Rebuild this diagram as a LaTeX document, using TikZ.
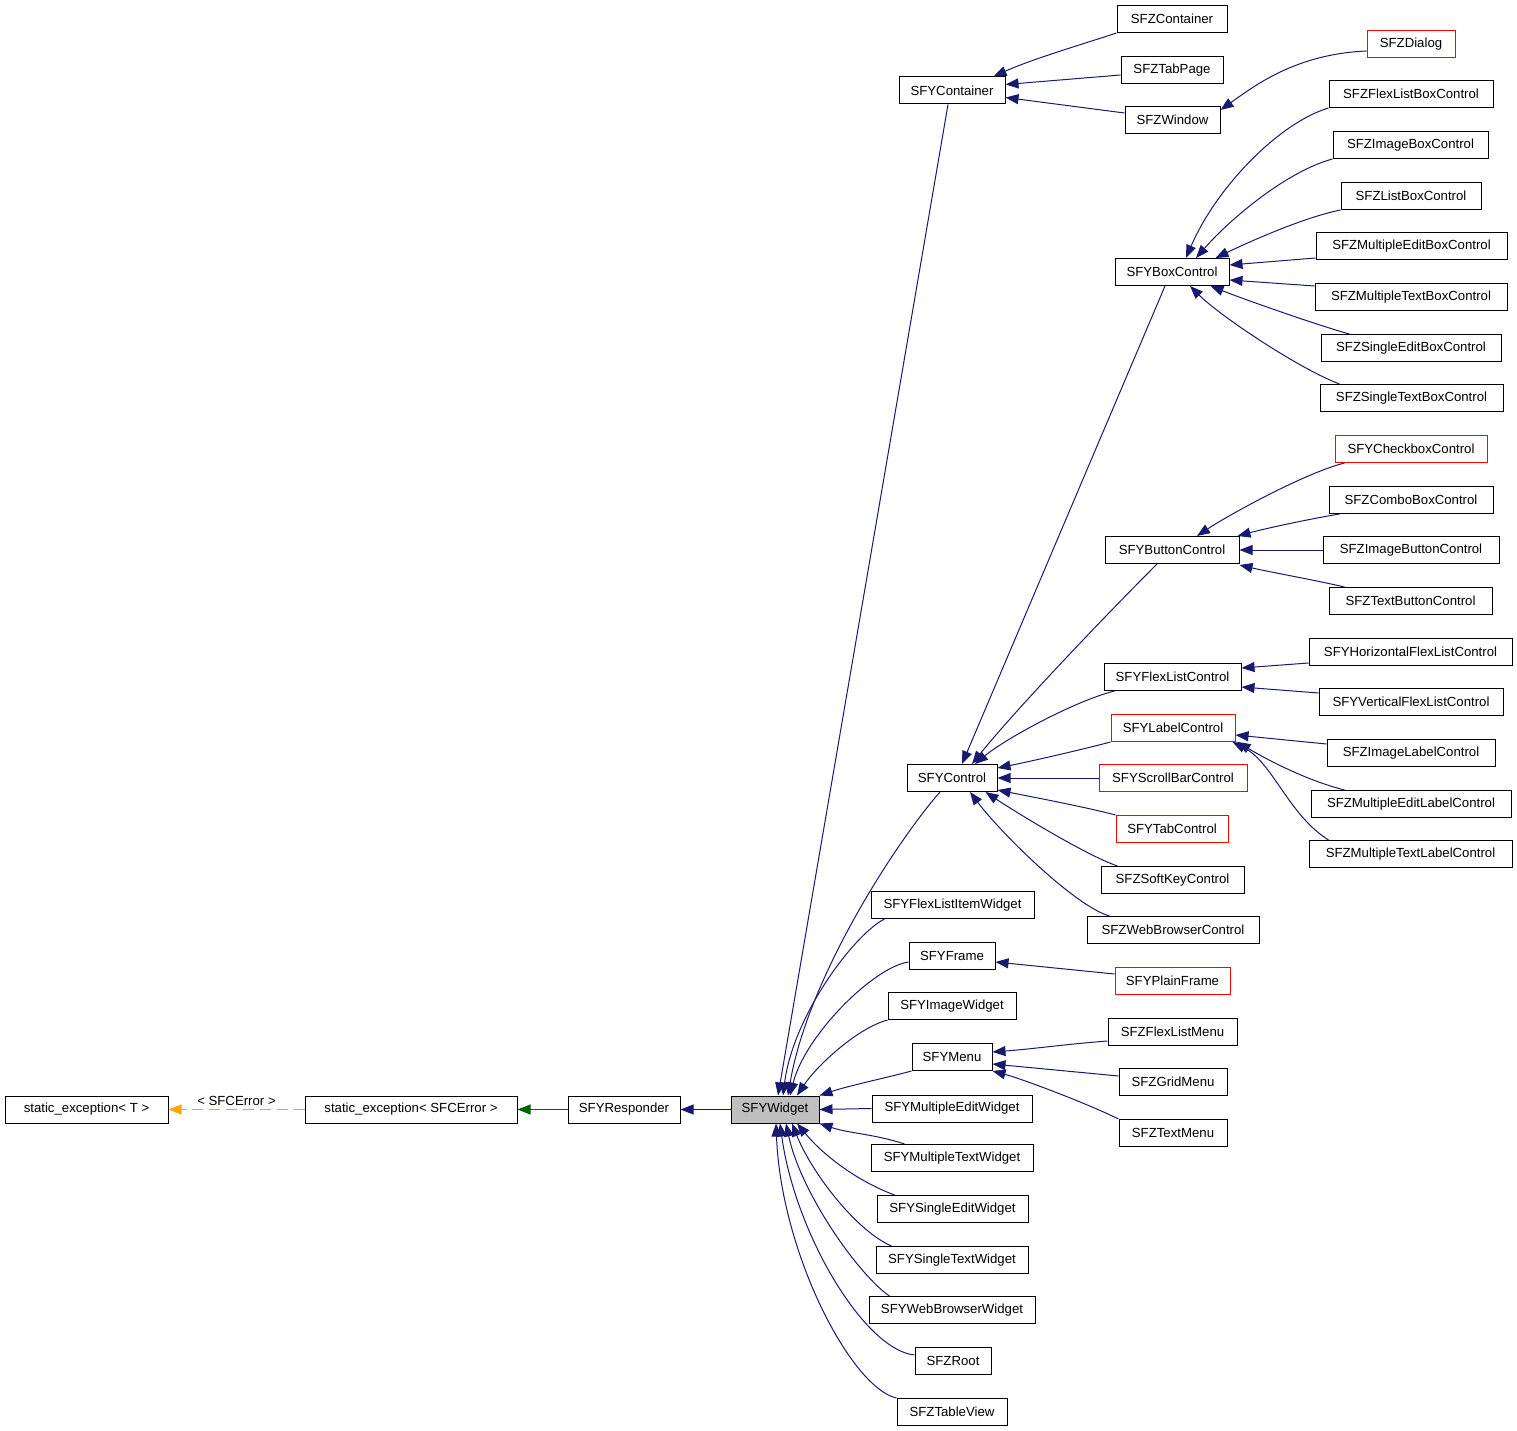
\documentclass[tikz,border=0pt]{standalone}
\usepackage{fontspec}
\setmainfont{Liberation Sans}
\usetikzlibrary{arrows.meta}
\definecolor{edgeblue}{RGB}{25,25,112}
\definecolor{edgegreen}{RGB}{0,100,0}
\definecolor{edgeorange}{RGB}{255,165,0}
\definecolor{widgetgray}{RGB}{191,191,191}

\begin{document}
\begin{tikzpicture}[x=1pt, y=-1pt,
    cls/.style={draw, line width=1pt, minimum height=27pt, inner sep=0pt, font=\fontsize{13.2}{15}\selectfont},
    redcls/.style={cls, draw=red},
    inh/.style={draw=edgeblue, line width=1pt, -{Triangle[length=13pt,width=10pt]}}]
    \useasboundingbox (0,0) rectangle (1517,1431);

    % base chain
    \node[cls, minimum width=163pt] (excT) at (86.5,1109.5) {static\_exception< T >\hspace{12pt}};
    \node[cls, minimum width=212pt] (excE) at (411,1109.5) {static\_exception< SFCError >\hspace{14pt}};
    \node[cls, minimum width=112pt] (resp) at (624,1109.5) {SFYResponder};
    \node[cls, fill=widgetgray, minimum width=88pt] (widget) at (775,1109.5) {SFYWidget};

    % direct children of SFYWidget
    \node[cls, minimum width=106pt] (yCont) at (952,90.5) {SFYContainer};
    \node[cls, minimum width=90pt] (yCtrl) at (952,778) {SFYControl};
    \node[cls, minimum width=163pt] (flItem) at (952.5,905) {SFYFlexListItemWidget};
    \node[cls, minimum width=86pt] (yFrame) at (952,956) {SFYFrame};
    \node[cls, minimum width=128pt] (imgW) at (952,1006) {SFYImageWidget};
    \node[cls, minimum width=80pt] (yMenu) at (952,1057) {SFYMenu};
    \node[cls, minimum width=160pt] (medW) at (952,1108.5) {SFYMultipleEditWidget};
    \node[cls, minimum width=162pt] (mtxW) at (952,1158) {SFYMultipleTextWidget};
    \node[cls, minimum width=151pt] (sedW) at (952.5,1209) {SFYSingleEditWidget};
    \node[cls, minimum width=152pt] (stxW) at (952,1260) {SFYSingleTextWidget};
    \node[cls, minimum width=166pt] (wbW) at (952,1310) {SFYWebBrowserWidget};
    \node[cls, minimum width=76pt] (zRoot) at (953,1361) {SFZRoot};
    \node[cls, minimum width=110pt] (zTable) at (952,1412) {SFZTableView};

    % second column
    \node[cls, minimum width=110pt] (zCont) at (1172,19) {SFZContainer};
    \node[cls, minimum width=102pt] (zTab) at (1172,70) {SFZTabPage};
    \node[cls, minimum width=95pt] (zWin) at (1172.5,120) {SFZWindow};
    \node[cls, minimum width=114pt] (boxc) at (1172,272) {SFYBoxControl};
    \node[cls, minimum width=134pt] (btnc) at (1172,550) {SFYButtonControl};
    \node[cls, minimum width=137pt] (flc) at (1172.5,677) {SFYFlexListControl};
    \node[redcls, minimum width=124pt] (lblc) at (1173,728) {SFYLabelControl};
    \node[redcls, minimum width=148pt] (sbc) at (1173,778) {SFYScrollBarControl};
    \node[redcls, minimum width=112pt] (tabc) at (1172,829) {SFYTabControl};
    \node[cls, minimum width=143pt] (skc) at (1172.5,880) {SFZSoftKeyControl};
    \node[cls, minimum width=172pt] (wbc) at (1173,930) {SFZWebBrowserControl};
    \node[redcls, minimum width=115pt] (pFrame) at (1172.5,981) {SFYPlainFrame};
    \node[cls, minimum width=129pt] (flMenu) at (1172.5,1032) {SFZFlexListMenu};
    \node[cls, minimum width=108pt] (gridM) at (1173,1082) {SFZGridMenu};
    \node[cls, minimum width=108pt] (txtM) at (1173,1133) {SFZTextMenu};

    % third column
    \node[redcls, minimum width=88pt] (zDlg) at (1411,44) {SFZDialog};
    \node[cls, minimum width=164pt] (flbc) at (1411,94) {SFZFlexListBoxControl};
    \node[cls, minimum width=155pt] (ibc) at (1410.5,145) {SFZImageBoxControl};
    \node[cls, minimum width=140pt] (lbc) at (1411,196) {SFZListBoxControl};
    \node[cls, minimum width=191pt] (mebc) at (1411.5,246) {SFZMultipleEditBoxControl};
    \node[cls, minimum width=192pt] (mtbc) at (1411,297) {SFZMultipleTextBoxControl};
    \node[cls, minimum width=180pt] (sebc) at (1411,348) {SFZSingleEditBoxControl};
    \node[cls, minimum width=183pt] (stbc) at (1411.5,398) {SFZSingleTextBoxControl};
    \node[redcls, minimum width=152pt] (chk) at (1411,449) {SFYCheckboxControl};
    \node[cls, minimum width=164pt] (cbc) at (1411,500) {SFZComboBoxControl};
    \node[cls, minimum width=176pt] (ibtn) at (1411,550) {SFZImageButtonControl};
    \node[cls, minimum width=163pt] (tbtn) at (1410.5,601) {SFZTextButtonControl};
    \node[cls, minimum width=203pt] (hfl) at (1410.5,652) {SFYHorizontalFlexListControl};
    \node[cls, minimum width=184pt] (vfl) at (1411,702) {SFYVerticalFlexListControl};
    \node[cls, minimum width=168pt] (ilc) at (1411,753) {SFZImageLabelControl};
    \node[cls, minimum width=200pt] (melc) at (1411,804) {SFZMultipleEditLabelControl};
    \node[cls, minimum width=203pt] (mtlc) at (1410.5,854) {SFZMultipleTextLabelControl};

    % base chain edges
    \draw[inh] (widget) -- (resp);
    \draw[edgegreen, line width=1pt, -{Triangle[length=13pt,width=10pt]}] (resp) -- (excE);
    \draw[edgeorange, line width=1.2pt, dash pattern=on 11pt off 6pt, -{Triangle[length=13pt,width=10pt]}]
        (excE) -- node[above, inner sep=3pt, text=black, font=\fontsize{13.2}{15}\selectfont] {< SFCError >} (excT);

    % SFYContainer
    \draw[inh] (zCont.south west) .. controls +(-30,10) and +(40,-18) .. ([xshift=-12pt]yCont.north east);
    \draw[inh] ([yshift=-5pt]zTab.west) -- ([yshift=6pt]yCont.east);
    \draw[inh] ([yshift=7pt]zWin.west) -- ([yshift=-7pt]yCont.east);
    \draw[inh] ([yshift=-7pt]zDlg.west) .. controls +(-70,3) and +(35,-25) .. ([yshift=10pt]zWin.east);
    \draw[inh] ([xshift=-4pt]yCont.south) -- ([xshift=3pt]widget.north);

    % SFYBoxControl
    \draw[inh] (flbc.south west) .. controls +(-50,15) and +(30,-70) .. ([xshift=14pt]boxc.north);
    \draw[inh] (ibc.south west) .. controls +(-45,12) and +(35,-40) .. ([xshift=24pt]boxc.north);
    \draw[inh] (lbc.south west) .. controls +(-40,8) and +(25,-12) .. ([xshift=-14pt]boxc.north east);
    \draw[inh] ([yshift=-12pt]mebc.west) -- ([yshift=7pt]boxc.east);
    \draw[inh] ([yshift=11pt]mtbc.west) -- ([yshift=-8pt]boxc.east);
    \draw[inh] ([xshift=29pt]sebc.north west) .. controls +(-30,-8) and +(30,12) .. ([xshift=-19pt]boxc.south east);
    \draw[inh] ([xshift=20pt]stbc.north west) .. controls +(-40,-15) and +(30,30) .. ([xshift=18pt]boxc.south);
    \draw[inh] ([xshift=-7pt]boxc.south) -- ([xshift=10pt]yCtrl.north);

    % SFYButtonControl
    \draw[inh] ([xshift=10pt]chk.south west) .. controls +(-40,10) and +(30,-20) .. ([xshift=25pt]btnc.north);
    \draw[inh] ([xshift=11pt]cbc.south west) .. controls +(-30,5) and +(30,-8) .. ([xshift=-2pt]btnc.north east);
    \draw[inh] (ibtn.west) -- (btnc.east);
    \draw[inh] ([xshift=16pt]tbtn.north west) .. controls +(-30,-7) and +(30,7) .. ([yshift=-15pt]btnc.east);
    \draw[inh] ([xshift=-15pt]btnc.south) .. controls +(-60,60) and +(40,-50) .. ([xshift=20pt]yCtrl.north);

    % SFYFlexListControl
    \draw[inh] ([yshift=-11pt]hfl.west) -- ([yshift=9pt]flc.east);
    \draw[inh] ([yshift=9pt]vfl.west) -- ([yshift=-10pt]flc.east);
    \draw[inh] ([xshift=11pt]flc.south west) .. controls +(-40,10) and +(30,-25) .. ([xshift=23pt]yCtrl.north);

    % SFYLabelControl
    \draw[inh] ([yshift=9pt]ilc.west) -- ([yshift=-7pt]lblc.east);
    \draw[inh] ([xshift=34pt]melc.north west) .. controls +(-40,-10) and +(25,15) .. ([xshift=2pt]lblc.south east);
    \draw[inh] ([xshift=20pt]mtlc.north west) .. controls +(-40,-25) and +(40,20) .. ([xshift=-3pt]lblc.south east);

    % SFYControl
    \draw[inh] (lblc.south west) .. controls +(-30,8) and +(30,-6) .. ([yshift=10pt]yCtrl.east);
    \draw[inh] (sbc.west) -- (yCtrl.east);
    \draw[inh] (tabc.north west) .. controls +(-30,-8) and +(30,6) .. ([yshift=-12pt]yCtrl.east);
    \draw[inh] ([xshift=17pt]skc.north west) .. controls +(-30,-10) and +(30,20) .. ([xshift=-12pt]yCtrl.south east);
    \draw[inh] ([xshift=23pt]wbc.north west) .. controls +(-35,-10) and +(30,40) .. ([xshift=18pt]yCtrl.south);
    \draw[inh] ([xshift=-12pt]yCtrl.south) .. controls +(-40,45) and +(20,-120) .. ([xshift=13pt]widget.north);

    % SFYFrame, SFYMenu
    \draw[inh] ([yshift=7pt]pFrame.west) -- ([yshift=-6pt]yFrame.east);
    \draw[inh] ([yshift=-9pt]flMenu.west) .. controls +(-40,3) and +(40,-3) .. ([yshift=5pt]yMenu.east);
    \draw[inh] ([yshift=6pt]gridM.west) -- ([yshift=-7pt]yMenu.east);
    \draw[inh] (txtM.north west) .. controls +(-30,-15) and +(30,8) .. (yMenu.south east);

    % SFYWidget
    \draw[inh] ([xshift=14pt]flItem.south west) .. controls +(-30,15) and +(10,-80) .. ([xshift=8pt]widget.north);
    \draw[inh] ([yshift=-6pt]yFrame.west) .. controls +(-35,5) and +(15,-60) .. ([xshift=15pt]widget.north);
    \draw[inh] (imgW.south west) .. controls +(-30,8) and +(20,-30) .. ([xshift=22pt]widget.north);
    \draw[inh] (yMenu.south west) .. controls +(-30,8) and +(30,-10) .. (widget.north east);
    \draw[inh] (medW.west) -- (widget.east);
    \draw[inh] ([xshift=34pt]mtxW.north west) .. controls +(-30,-10) and +(30,10) .. (widget.south east);
    \draw[inh] ([xshift=18pt]sedW.north west) .. controls +(-40,-15) and +(25,30) .. ([xshift=22pt]widget.south);
    \draw[inh] ([xshift=16pt]stxW.north west) .. controls +(-35,-15) and +(20,50) .. ([xshift=17pt]widget.south);
    \draw[inh] ([xshift=21pt]wbW.north west) .. controls +(-30,-20) and +(15,70) .. ([xshift=11pt]widget.south);
    \draw[inh] ([yshift=6pt]zRoot.west) .. controls +(-50,-5) and +(15,110) .. ([xshift=5pt]widget.south);
    \draw[inh] (zTable.north west) .. controls +(-45,-10) and +(5,130) .. ([xshift=1pt]widget.south);
\end{tikzpicture}
\end{document}
